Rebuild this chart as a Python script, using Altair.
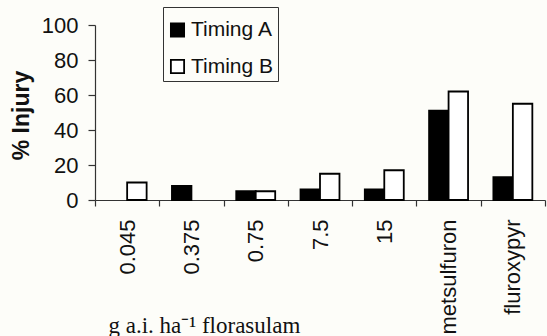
import altair as alt
import pandas as pd

categories = ["0.045", "0.375", "0.75", "7.5", "15", "metsulfuron", "fluroxypyr"]
timing_a = [0, 8, 5, 6, 6, 51, 13]
timing_b = [10, 0, 5, 15, 17, 62, 55]
series = ["Timing A", "Timing B"]

rows = []
for c, a, b in zip(categories, timing_a, timing_b):
    rows.append({"cat": c, "timing": series[0], "injury": a})
    rows.append({"cat": c, "timing": series[1], "injury": b})
df = pd.DataFrame(rows)

bars = alt.Chart(df).transform_filter(alt.datum.injury > 0).mark_bar(stroke="black", strokeWidth=1.8).encode(
    x=alt.X("cat:N", sort=categories,
            scale=alt.Scale(domain=categories, paddingInner=0, paddingOuter=0),
            axis=alt.Axis(title="g a.i. ha\u207b\u00b9 florasulam", labelAngle=-90,
                          labelAlign="right", labelBaseline="middle",
                          labelFont="Liberation Sans", labelFontSize=22, labelColor="#111",
                          labelPadding=13, tickBand="extent", tickSize=6, tickColor="#333",
                          domainColor="#333", domainWidth=1.2, tickWidth=1.2,
                          titleFont="Liberation Serif", titleFontSize=23, titleFontWeight="normal",
                          titleColor="#111", titleX=13, titleY=132, titleAlign="left",
                          titleBaseline="alphabetic", titleAnchor="start")),
    xOffset=alt.XOffset("timing:N", sort=series,
                        scale=alt.Scale(domain=series, paddingOuter=0.65, paddingInner=0)),
    y=alt.Y("injury:Q", scale=alt.Scale(domain=[0, 100], nice=False),
            axis=alt.Axis(title="% Injury", values=[0, 20, 40, 60, 80, 100], grid=False,
                          labelFont="Liberation Sans", labelFontSize=22, labelColor="#111",
                          labelPadding=10, tickSize=7, tickColor="#333", domainColor="#333",
                          domainWidth=1.2, tickWidth=1.2,
                          titleFont="Liberation Sans", titleFontSize=23, titleFontWeight="bold",
                          titleColor="#111", titleX=-74, titleY=90, titleAngle=-90,
                          titleAlign="center", titleBaseline="middle")),
    color=alt.Color("timing:N", sort=series,
                    scale=alt.Scale(domain=series, range=["black", "white"]),
                    legend=alt.Legend(title=" ", titleFontSize=8, titlePadding=0.5,
                                      orient="none", legendX=68, legendY=-18,
                                      symbolType="square", symbolSize=175,
                                      symbolStrokeColor="black", symbolStrokeWidth=1.8,
                                      labelFont="Liberation Sans", labelFontSize=21,
                                      labelColor="#111", labelOffset=3, rowPadding=14.5,
                                      padding=4, strokeColor="#333")),
).properties(
    width=450, height=175,
    padding={"left": 95, "top": 25, "right": 2, "bottom": 136},
    autosize=alt.AutoSizeParams(type="none"),
).configure(background="#fdfdf9").configure_view(stroke=None)

chart = bars
chart.save("out.html", embed_options={"renderer": "svg", "actions": False})
